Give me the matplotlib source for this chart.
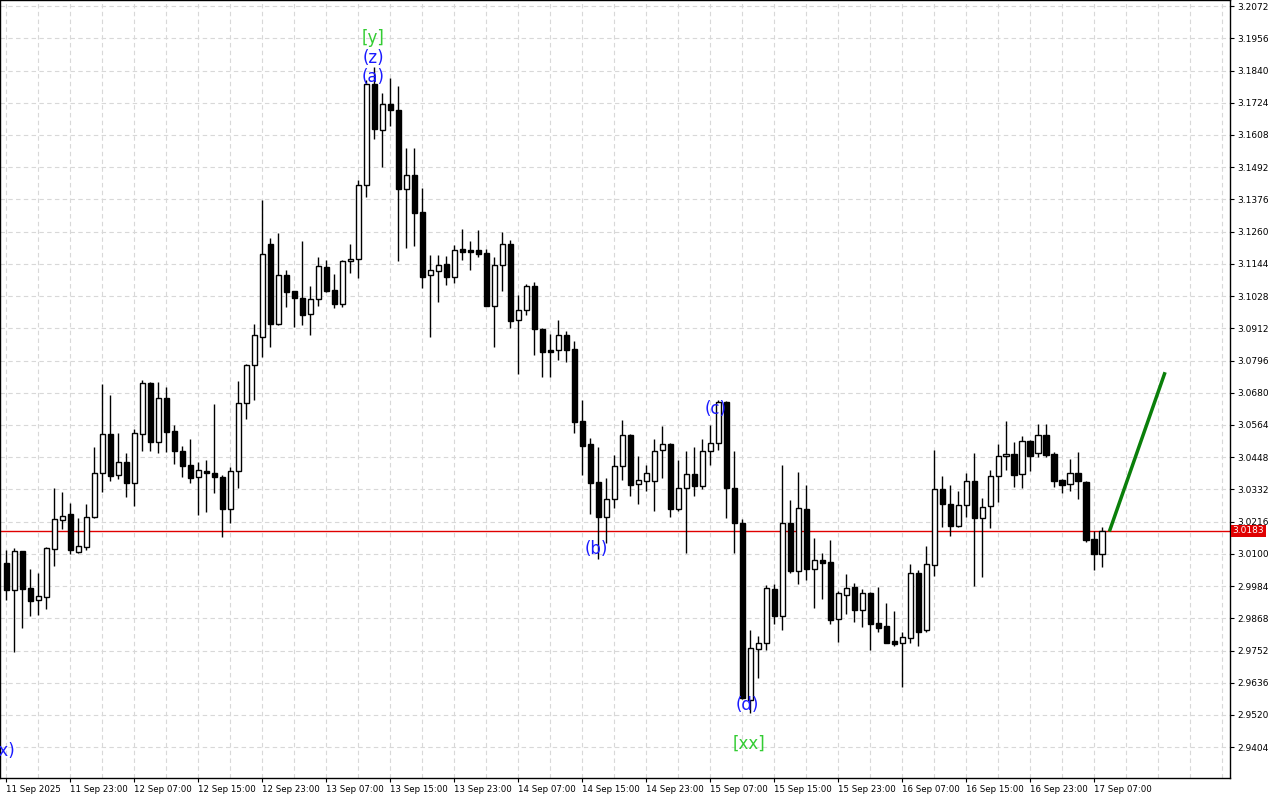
import matplotlib
matplotlib.use("Agg")
import matplotlib.pyplot as plt
from matplotlib.patches import Rectangle
import numpy as np

opens = [3.0067,2.9970,3.0110,2.9977,2.9934,2.9945,3.0118,3.0222,3.0244,3.0107,3.0125,3.0233,3.0391,3.0532,3.0384,3.0431,3.0355,3.0532,3.0715,3.0503,
 3.0661,3.0542,3.0470,3.0420,3.0377,3.0398,3.0391,3.0377,3.0262,3.0398,3.0643,3.0780,3.0881,3.1216,3.0928,3.1104,3.1046,3.1021,3.0964,3.1018,
 3.1133,3.1050,3.1000,3.1154,3.1162,3.1428,3.1792,3.1626,3.1720,3.1698,3.1414,3.1464,3.1331,3.1104,3.1118,3.1144,3.1097,3.1198,3.1194,3.1194,
 3.1183,3.0993,3.1140,3.1216,3.0942,3.0978,3.1064,3.0910,3.0834,3.0834,3.0888,3.0838,3.0578,3.0496,3.0359,3.0233,3.0298,3.0416,3.0528,3.0352,
 3.0362,3.0362,3.0474,3.0496,3.0262,3.0337,3.0388,3.0344,3.0470,3.0499,3.0647,3.0337,3.0211,2.9574,2.9758,2.9779,2.9974,2.9876,3.0211,3.0038,
 3.0262,3.0046,3.0078,3.0071,2.9866,2.9952,2.9981,2.9898,2.9959,2.9851,2.9840,2.9786,2.9779,2.9797,3.0031,2.9826,3.0060,3.0334,3.0280,3.0200,
 3.0276,3.0362,3.0229,3.0272,3.0380,3.0452,3.0460,3.0388,3.0506,3.0463,3.0528,3.0460,3.0366,3.0352,3.0391,3.0359,3.0154,3.0100]
highs = [3.0114,3.0121,3.0112,3.0046,3.0031,3.0125,3.0337,3.0323,3.0283,3.0229,3.0280,3.0485,3.0712,3.0672,3.0535,3.0463,3.0550,3.0726,3.0720,3.0719,
 3.0701,3.0564,3.0488,3.0514,3.0431,3.0438,3.0640,3.0384,3.0413,3.0722,3.0785,3.0928,3.1374,3.1237,3.1255,3.1122,3.1048,3.1226,3.1064,3.1169,
 3.1158,3.1108,3.1158,3.1216,3.1446,3.1806,3.1853,3.1759,3.1813,3.1784,3.1561,3.1561,3.1417,3.1176,3.1176,3.1172,3.1212,3.1270,3.1226,3.1266,
 3.1198,3.1169,3.1259,3.1230,3.1032,3.1072,3.1079,3.0913,3.0892,3.0942,3.0902,3.0866,3.0654,3.0517,3.0485,3.0373,3.0456,3.0582,3.0532,3.0452,
 3.0420,3.0514,3.0560,3.0499,3.0438,3.0470,3.0485,3.0514,3.0564,3.0654,3.0652,3.0470,3.0226,2.9826,2.9804,2.9988,2.9992,3.0420,3.0294,3.0395,
 3.0348,3.0157,3.0103,3.0150,2.9966,3.0028,2.9995,2.9974,2.9962,2.9981,2.9923,2.9894,2.9819,3.0064,3.0042,3.0128,3.0474,3.0380,3.0348,3.0326,
 3.0391,3.0463,3.0301,3.0402,3.0496,3.0578,3.0503,3.0524,3.0510,3.0568,3.0568,3.0467,3.0369,3.0442,3.0467,3.0362,3.0182,3.0197]
lows = [2.9934,2.9747,2.9833,2.9876,2.9880,2.9902,3.0056,3.0190,3.0100,3.0104,3.0114,3.0230,3.0323,3.0362,3.0370,3.0305,3.0272,3.0470,3.0470,3.0463,
 3.0467,3.0424,3.0377,3.0355,3.0240,3.0251,3.0319,3.0161,3.0211,3.0337,3.0586,3.0654,3.0809,3.0845,3.0925,3.0989,3.0917,3.0924,3.0888,3.0992,
 3.1043,3.0985,3.0989,3.1111,3.1093,3.1385,3.1594,3.1493,3.1640,3.1154,3.1201,3.1208,3.1057,3.0881,3.1007,3.1068,3.1075,3.1158,3.1122,3.1169,
 3.1010,3.0845,3.1046,3.0913,3.0748,3.0960,3.0816,3.0737,3.0737,3.0798,3.0791,3.0535,3.0384,3.0244,3.0082,3.0139,3.0265,3.0366,3.0308,3.0280,
 3.0326,3.0254,3.0373,3.0233,3.0254,3.0103,3.0308,3.0334,3.0420,3.0474,3.0229,3.0103,2.9578,2.9527,2.9653,2.9754,2.9848,2.9826,3.0031,2.9992,
 3.0006,2.9905,2.9938,2.9848,2.9783,2.9884,2.9855,2.9837,2.9754,2.9819,2.9779,2.9768,2.9621,2.9779,2.9768,2.9819,3.0020,3.0197,3.0164,3.0197,
 3.0233,2.9984,3.0017,3.0193,3.0287,3.0402,3.0341,3.0337,3.0398,3.0449,3.0450,3.0341,3.0319,3.0326,3.0298,3.0143,3.0042,3.0053]
closes = [2.9970,3.0110,2.9974,2.9930,2.9948,3.0121,3.0226,3.0236,3.0114,3.0128,3.0233,3.0391,3.0532,3.0380,3.0431,3.0355,3.0535,3.0715,3.0503,3.0661,
 3.0539,3.0470,3.0416,3.0373,3.0402,3.0391,3.0377,3.0262,3.0398,3.0643,3.0780,3.0888,3.1180,3.0928,3.1104,3.1043,3.1021,3.0960,3.1018,3.1136,
 3.1046,3.1000,3.1154,3.1162,3.1428,3.1792,3.1630,3.1720,3.1698,3.1414,3.1464,3.1327,3.1097,3.1122,3.1140,3.1097,3.1194,3.1187,3.1187,3.1180,
 3.0993,3.1140,3.1216,3.0938,3.0978,3.1064,3.0910,3.0827,3.0827,3.0888,3.0834,3.0575,3.0488,3.0355,3.0233,3.0298,3.0416,3.0528,3.0348,3.0366,
 3.0391,3.0470,3.0496,3.0262,3.0337,3.0388,3.0344,3.0470,3.0499,3.0647,3.0337,3.0211,2.9581,2.9761,2.9779,2.9977,2.9876,3.0211,3.0038,3.0265,
 3.0046,3.0078,3.0067,2.9862,2.9959,2.9977,2.9898,2.9959,2.9848,2.9833,2.9779,2.9776,2.9801,3.0031,2.9819,3.0064,3.0334,3.0280,3.0200,3.0276,
 3.0362,3.0229,3.0269,3.0380,3.0452,3.0460,3.0384,3.0506,3.0452,3.0528,3.0456,3.0362,3.0348,3.0391,3.0362,3.0150,3.0100,3.0183]

tick_labels = ["11 Sep 2025","11 Sep 23:00","12 Sep 07:00","12 Sep 15:00","12 Sep 23:00","13 Sep 07:00",
 "13 Sep 15:00","13 Sep 23:00","14 Sep 07:00","14 Sep 15:00","14 Sep 23:00","15 Sep 07:00","15 Sep 15:00",
 "15 Sep 23:00","16 Sep 07:00","16 Sep 15:00","16 Sep 23:00","17 Sep 07:00"]
price_ticks = [3.2072,3.1956,3.1840,3.1724,3.1608,3.1492,3.1376,3.1260,3.1144,3.1028,3.0912,3.0796,3.0680,3.0564,
 3.0448,3.0332,3.0216,3.0100,2.9984,2.9868,2.9752,2.9636,2.9520,2.9404]
current_price = 3.0183
forecast_x = [137.97, 144.8]
forecast_y = [3.0186, 3.0748]
wave_labels = [("[y]",45.8,3.1957,"#33cc33"),("(z)",45.9,3.1885,"#1a1aff"),("(a)",45.9,3.1817,"#1a1aff"),
 ("(x)",-0.3,2.9390,"#1a1aff"),("(b)",73.8,3.0118,"#1a1aff"),("(c)",88.7,3.0622,"#1a1aff"),
 ("(d)",92.6,2.9556,"#1a1aff"),("[xx]",92.8,2.9416,"#33cc33")]

fig = plt.figure(figsize=(12.8,8), dpi=100)
ax = fig.add_axes([0.0, 0.0275, 0.961, 0.9725])
n = len(opens)
for i in range(n):
    o,h,l,c = opens[i],highs[i],lows[i],closes[i]
    ax.plot([i,i],[l,h],color="black",lw=1,zorder=2,solid_capstyle="butt")
    bot, top = min(o,c), max(o,c)
    hgt = max(top-bot, 0.0004)
    fc = "white" if c >= o else "black"
    ax.add_patch(Rectangle((i-0.33,bot),0.66,hgt,facecolor=fc,edgecolor="black",lw=1,zorder=3))

ax.axhline(current_price,color="#e00000",lw=1,zorder=1)
ax.plot(forecast_x,forecast_y,color="#0a7f0a",lw=2.5,zorder=4)
for t,x,y,c in wave_labels:
    txt = ax.text(x,y,t,color=c,fontsize=12,ha="center",va="center",zorder=5)
    txt.set_clip_on(True)

ax.set_xlim(-0.8,153.0)
ax.set_ylim(2.9293,3.2094)
xt = np.arange(len(tick_labels))*8
ax.set_xticks(xt)
ax.set_xticklabels(tick_labels,fontsize=6.2,ha="left")
ax.set_xticks(np.arange(0,154,4),minor=True)
ax.yaxis.tick_right()
ax.set_yticks(price_ticks)
ax.set_yticklabels([f"{p:.4f}" for p in price_ticks],fontsize=6.5)
ax.tick_params(axis="both",length=3,width=0.8,pad=2)
ax.tick_params(axis="x",which="minor",length=0)
ax.grid(True,which="both",axis="x",color="#d8d8d8",ls=(0,(4,3)),lw=0.8)
ax.grid(True,axis="y",color="#d8d8d8",ls=(0,(4,3)),lw=0.8)
ax.set_axisbelow(True)
for s in ax.spines.values():
    s.set_linewidth(1)
ax.text(1.002,current_price,f"{current_price:.4f}",transform=ax.get_yaxis_transform(),
        fontsize=6.5,color="white",va="center",ha="left",
        bbox=dict(boxstyle="square,pad=0.15",fc="#e00000",ec="none"),zorder=6)
fig.savefig("out.png",dpi=100)
